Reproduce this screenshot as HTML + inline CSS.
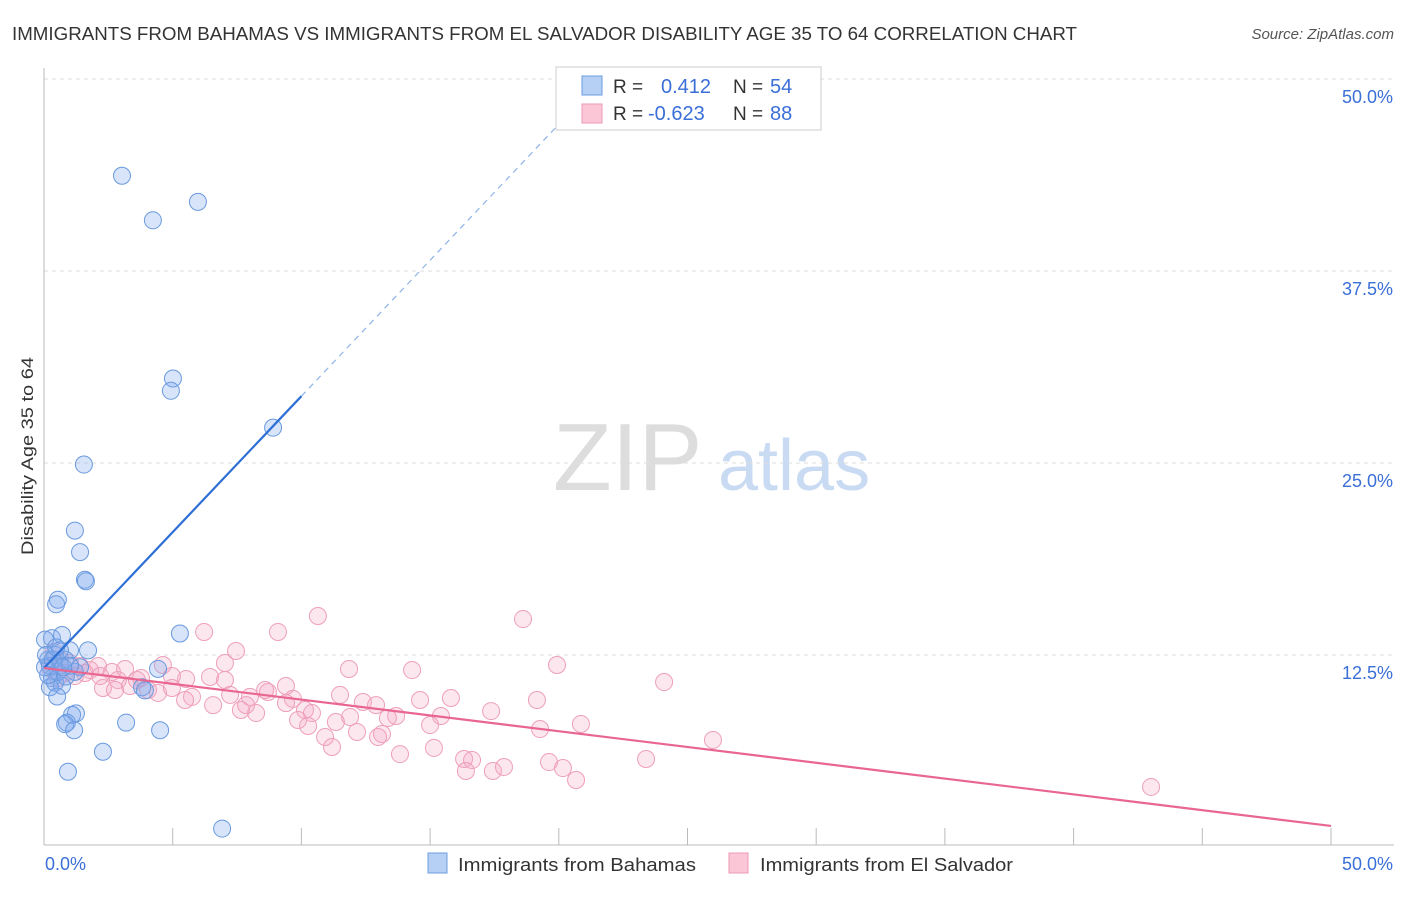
<!DOCTYPE html>
<html><head><meta charset="utf-8"><style>
body{margin:0;background:#fff;font-family:"Liberation Sans",sans-serif}
svg text{font-family:"Liberation Sans",sans-serif}
</style></head><body>
<svg id="chart" width="1406" height="892">
<text x="12" y="40" font-size="18" fill="#333" textLength="1065" lengthAdjust="spacingAndGlyphs">IMMIGRANTS FROM BAHAMAS VS IMMIGRANTS FROM EL SALVADOR DISABILITY AGE 35 TO 64 CORRELATION CHART</text>
<text x="1394" y="39" font-size="15" fill="#555" font-style="italic" text-anchor="end">Source: ZipAtlas.com</text>
<text x="33" y="456" font-size="17" fill="#333" text-anchor="middle" transform="rotate(-90 33 456)" textLength="198" lengthAdjust="spacingAndGlyphs">Disability Age 35 to 64</text>
<g><text x="553" y="490" font-size="96" fill="#ddd" font-family="Liberation Serif">ZIP</text><text x="718" y="490" font-size="72" fill="#c9daf3">atlas</text></g>
<g id="grid"></g><g id="axes"></g><g id="marks"></g>
<g>
<rect x="556" y="67" width="265" height="63" fill="#fff" stroke="#ccc"/>
<rect x="582" y="76" width="20" height="19" fill="#b5cff5" stroke="#6d9de0"/>
<rect x="582" y="104" width="20" height="19" fill="#fbc7d7" stroke="#ec9ab5"/>
<text x="613" y="93" font-size="19" fill="#333">R = </text><text x="661" y="93" font-size="20" fill="#3a6fd8">0.412</text>
<text x="733" y="93" font-size="19" fill="#333">N = </text><text x="770" y="93" font-size="20" fill="#3a6fd8">54</text>
<text x="613" y="120" font-size="19" fill="#333">R = </text><text x="648" y="120" font-size="20" fill="#3a6fd8">-0.623</text>
<text x="733" y="120" font-size="19" fill="#333">N = </text><text x="770" y="120" font-size="20" fill="#3a6fd8">88</text>
</g>
<g>
<rect x="428" y="853" width="19" height="20" fill="#b5cff5" stroke="#6d9de0"/>
<text x="458" y="871" font-size="18" fill="#333" textLength="238" lengthAdjust="spacingAndGlyphs">Immigrants from Bahamas</text>
<rect x="729" y="853" width="19" height="20" fill="#fbc7d7" stroke="#ec9ab5"/>
<text x="760" y="871" font-size="18" fill="#333" textLength="253" lengthAdjust="spacingAndGlyphs">Immigrants from El Salvador</text>
</g>
</svg>
<script>
const xTicks=[0,5,10,15,20,25,30,35,40,45,50];
const yTicks=[12.5,25,37.5,50];
const yTickLabels=["12.5%","25.0%","37.5%","50.0%"];
const blueX=[3.03,4.23,5.98,5.01,4.93,8.90,1.55,1.20,1.40,1.59,1.63,0.54,0.47,0.31,0.70,5.28,1.71,1.01,0.43,0.16,0.23,0.62,0.82,1.20,1.40,4.43,0.31,0.43,0.70,0.23,3.81,0.51,1.24,1.09,0.89,0.82,1.17,3.19,4.51,2.29,0.93,6.92,0.04,0.08,0.54,0.16,1.01,0.62,0.04,0.85,0.35,0.74,0.47,3.92];
const blueY=[43.7,40.8,42.0,30.5,29.7,27.3,24.9,20.6,19.2,17.4,17.3,16.1,15.8,13.6,13.8,13.9,12.8,12.8,12.5,12.2,11.8,11.8,12.2,11.4,11.7,11.6,11.0,10.7,10.5,10.4,10.4,9.8,8.7,8.6,8.1,8.0,7.6,8.1,7.6,6.2,4.9,1.2,13.5,12.5,11.4,11.2,11.8,12.8,11.7,11.1,12.2,11.7,13.0,10.2];
const pinkX=[10.64,18.61,9.09,6.22,7.46,19.93,14.30,11.85,24.09,7.03,4.62,2.10,9.40,6.45,5.52,4.97,3.77,2.87,3.34,2.29,2.76,4.04,4.43,4.97,5.75,7.23,8.00,8.70,9.67,8.59,6.57,7.65,8.24,10.14,10.41,11.50,12.39,12.90,13.68,14.61,15.81,15.42,19.15,17.37,20.86,15.00,13.36,11.89,9.87,10.26,11.34,12.16,13.13,12.98,10.92,11.19,13.83,15.15,16.32,16.63,16.39,17.44,17.87,19.62,20.16,20.67,19.27,23.39,25.99,43.01,0.39,0.62,1.01,1.40,1.79,0.82,0.23,0.54,1.20,1.59,2.18,2.64,3.15,3.61,7.03,5.48,7.85,9.40];
const pinkY=[15.04,14.84,14.00,14.00,12.76,11.85,11.52,11.59,10.74,11.98,11.85,11.78,10.48,11.07,10.94,11.13,11.00,10.87,10.48,10.35,10.22,10.22,10.03,10.35,9.77,9.90,9.77,10.09,9.64,10.22,9.24,8.92,8.72,8.92,8.72,9.90,9.44,9.24,8.53,9.57,9.70,8.53,9.57,8.85,8.01,7.94,8.40,8.46,8.27,7.88,8.14,7.49,7.36,7.16,7.16,6.51,6.05,6.45,5.73,5.66,4.95,4.95,5.21,5.53,5.14,4.36,7.68,5.73,6.97,3.91,12.70,12.17,11.98,11.78,11.52,11.33,11.65,11.00,11.13,11.33,11.13,11.39,11.59,10.87,10.87,9.57,9.24,9.37];
const blueTrend=[11.65,1.77];
const pinkTrend=[11.65,-0.2056];
const NS="http://www.w3.org/2000/svg";
const xs=v=>44+v*25.74, ys=v=>847-v*15.36;
function mk(t,a,p){const e=document.createElementNS(NS,t);for(const k in a)e.setAttribute(k,a[k]);p.appendChild(e);return e;}
const grid=document.getElementById('grid'),axes=document.getElementById('axes'),marks=document.getElementById('marks');
yTicks.forEach((t,i)=>{
 const l=mk('line',{x1:44,x2:1394,y1:ys(t),y2:ys(t),stroke:'#ddd','stroke-dasharray':'4,4'},grid);
 
 
 const tx=mk('text',{x:1393,y:ys(t)+24,'font-size':18,fill:'#3a6fd8','text-anchor':'end'},axes);tx.textContent=yTickLabels[i];
 
 
});
mk('line',{x1:44,x2:44,y1:68,y2:845,stroke:'#bbb'},axes);
mk('line',{x1:44,x2:1394,y1:845,y2:845,stroke:'#bbb'},axes);
xTicks.forEach(t=>{const l=mk('line',{x1:xs(t),x2:xs(t),y1:828,y2:845,stroke:'#bbb'},axes);
 
 });
const x0=mk('text',{x:45,y:870,'font-size':18,fill:'#3a6fd8'},axes);x0.textContent=xTicks[0].toFixed(1)+'%';


const x1=mk('text',{x:1393,y:870,'font-size':18,fill:'#3a6fd8','text-anchor':'end'},axes);x1.textContent=xTicks[xTicks.length-1].toFixed(1)+'%';


pinkX.forEach((v,i)=>{const c=mk('circle',{cx:xs(v),cy:ys(pinkY[i]),r:8.5,fill:'rgba(246,170,196,0.28)',stroke:'#ee9fb9','stroke-width':1},marks);
 
 });
blueX.forEach((v,i)=>{const c=mk('circle',{cx:xs(v),cy:ys(blueY[i]),r:8.5,fill:'rgba(130,172,238,0.32)',stroke:'#6a9ade','stroke-width':1},marks);
 
 });
const bl=mk('line',{x1:xs(0),y1:ys(blueTrend[0]),x2:xs(10),y2:ys(blueTrend[0]+blueTrend[1]*10),stroke:'#2e6fd6','stroke-width':2.2},marks);


const bd=mk('line',{x1:xs(10),y1:ys(blueTrend[0]+blueTrend[1]*10),x2:xs(20.4),y2:ys(blueTrend[0]+blueTrend[1]*20.4),stroke:'#8fb3e8','stroke-width':1.2,'stroke-dasharray':'6,5'},marks);


const pl=mk('line',{x1:xs(0),y1:ys(pinkTrend[0]),x2:xs(50),y2:ys(pinkTrend[0]+pinkTrend[1]*50),stroke:'#e8668f','stroke-width':2.2},marks);


</script>
</body></html>
